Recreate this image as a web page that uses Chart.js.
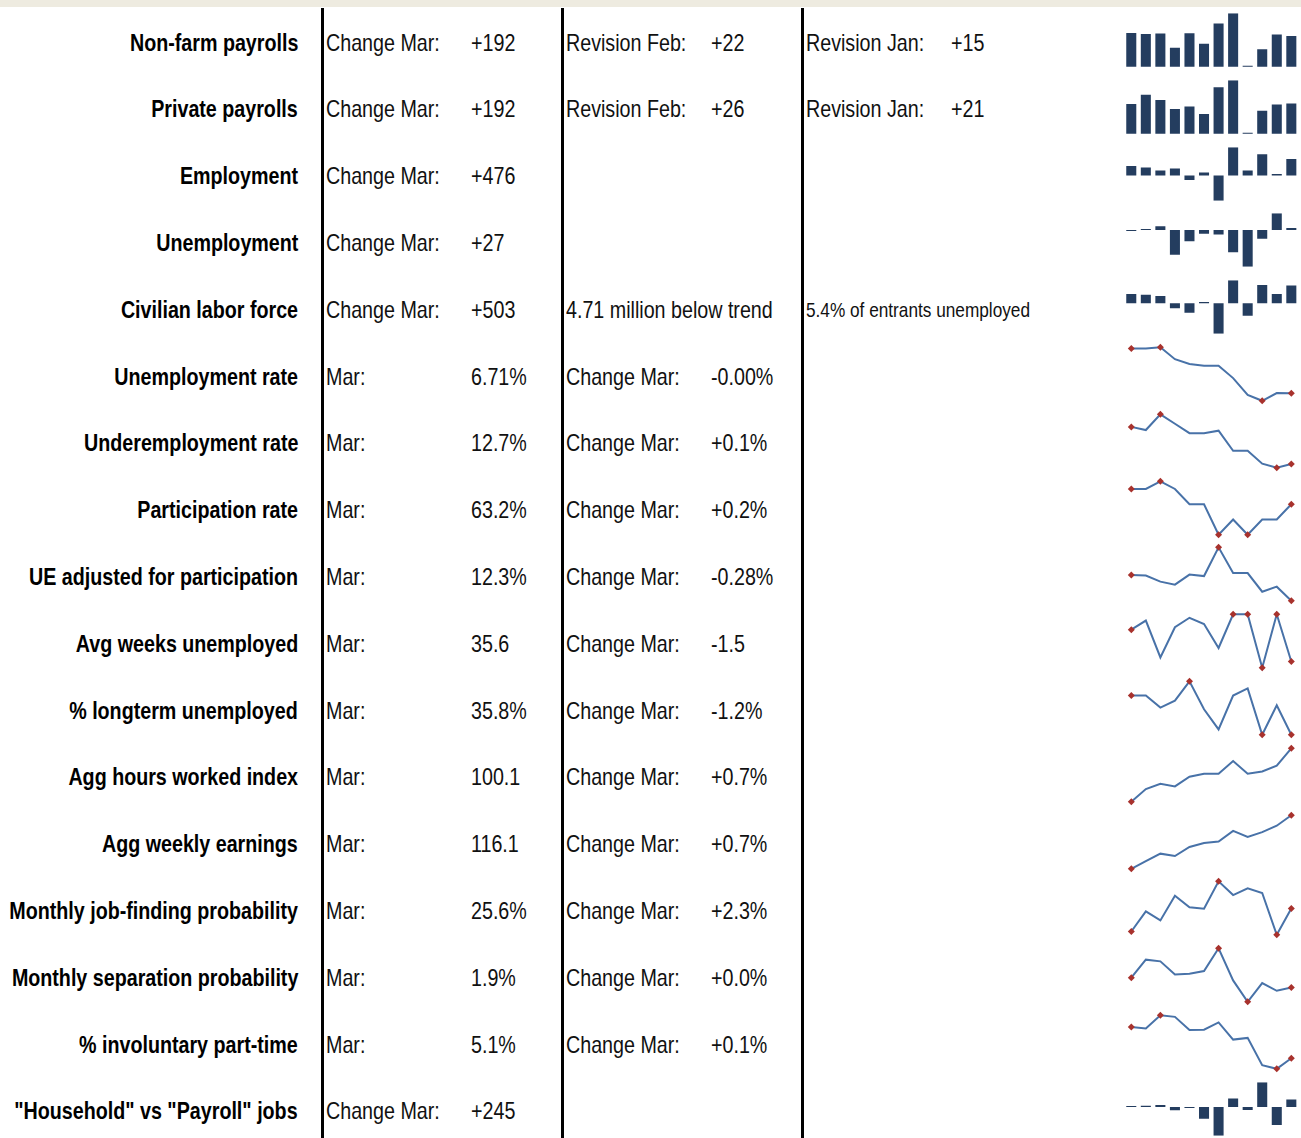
<!DOCTYPE html>
<html>
<head>
<meta charset="utf-8">
<script src="https://cdn.jsdelivr.net/npm/chart.js"></script>
<style>
html, body { margin: 0; padding: 0; overflow: hidden; background: #fff; }
body { width: 1301px; height: 1138px; position: relative;
       font-family: "Liberation Sans", Arial, sans-serif; font-size: 24px; color: #111; }
#strip { position: absolute; left: 0; top: 0; width: 1301px; height: 7px; background: #eeebe0; }
.vline { position: absolute; top: 8px; height: 1130px; width: 3px; background: #000; }
/* no narrow font installed, so squeeze the regular one */
.cell { position: absolute; height: 66.8px; line-height: 66.8px; white-space: nowrap;
        transform: scaleX(0.82); transform-origin: left center; }
.lab { right: 1003px; font-weight: bold; text-align: right; color: #000; transform-origin: right center; }
.small { font-size: 21px; }
.spark { position: absolute; left: 1120px; width: 181px; height: 67px; }
</style>
</head>
<body>
<div id="strip"></div>
<div class="vline" style="left:321px"></div>
<div class="vline" style="left:561px"></div>
<div class="vline" style="left:801px"></div>

<script>
// categories for every sparkline: Apr .. Mar
var months = ["Apr", "May", "Jun", "Jul", "Aug", "Sep", "Oct", "Nov", "Dec", "Jan", "Feb", "Mar"];

var rowLabels = ["Non-farm payrolls", "Private payrolls", "Employment", "Unemployment", "Civilian labor force",
    "Unemployment rate", "Underemployment rate", "Participation rate", "UE adjusted for participation",
    "Avg weeks unemployed", "% longterm unemployed", "Agg hours worked index", "Agg weekly earnings",
    "Monthly job-finding probability", "Monthly separation probability", "% involuntary part-time",
    "\"Household\" vs \"Payroll\" jobs"];

var col1Text = ["Change Mar:", "Change Mar:", "Change Mar:", "Change Mar:", "Change Mar:",
    "Mar:", "Mar:", "Mar:", "Mar:", "Mar:", "Mar:", "Mar:", "Mar:", "Mar:", "Mar:", "Mar:", "Change Mar:"];
var col1Value = ["+192", "+192", "+476", "+27", "+503", "6.71%", "12.7%", "63.2%", "12.3%", "35.6",
    "35.8%", "100.1", "116.1", "25.6%", "1.9%", "5.1%", "+245"];

var col2Text = ["Revision Feb:", "Revision Feb:", "", "", "4.71 million below trend",
    "Change Mar:", "Change Mar:", "Change Mar:", "Change Mar:", "Change Mar:", "Change Mar:",
    "Change Mar:", "Change Mar:", "Change Mar:", "Change Mar:", "Change Mar:", ""];
var col2Value = ["+22", "+26", "", "", "", "-0.00%", "+0.1%", "+0.2%", "-0.28%", "-1.5", "-1.2%",
    "+0.7%", "+0.7%", "+2.3%", "+0.0%", "+0.1%", ""];

var col3Text = ["Revision Jan:", "Revision Jan:", "", "", "5.4% of entrants unemployed",
    "", "", "", "", "", "", "", "", "", "", "", ""];
var col3Value = ["+15", "+21", "", "", "", "", "", "", "", "", "", "", "", "", "", "", ""];

// sparkline series
var nonfarm      = [203, 199, 201, 149, 202, 164, 237, 274, 84, 144, 197, 192];
var privatePay   = [190, 223, 204, 172, 181, 154, 250, 275, 87, 166, 188, 192];
var employment   = [275, 230, 145, 200, -130, 90, -735, 818, 143, 616, 42, 476];
var unemployment = [-6, 3, 52, -330, -148, -48, -61, -296, -490, -115, 223, 27];
var laborForce   = [260, 242, 205, -140, -270, 37, -865, 651, -353, 521, 260, 503];
var unempRate    = [7.54, 7.54, 7.56, 7.34, 7.25, 7.22, 7.22, 6.99, 6.68, 6.57, 6.712, 6.708];
var underRate    = [13.9, 13.8, 14.3, 14.0, 13.7, 13.7, 13.78, 13.14, 13.14, 12.73, 12.6, 12.72];
var partRate     = [63.4, 63.4, 63.5, 63.4, 63.2, 63.2, 62.8, 63.0, 62.8, 63.0, 63.0, 63.2];
var ueAdjusted   = [12.81, 12.80, 12.68, 12.62, 12.82, 12.79, 13.36, 12.85, 12.85, 12.48, 12.58, 12.30];
var avgWeeks     = [36.61, 36.90, 35.73, 36.69, 36.99, 36.79, 36.03, 37.1, 37.1, 35.40, 37.1, 35.6];
var longterm     = [37.40, 37.40, 36.91, 37.19, 37.98, 36.84, 36.02, 37.40, 37.69, 35.8, 37.0, 35.8];
var aggHours     = [97.95, 98.46, 98.67, 98.57, 98.96, 99.08, 99.08, 99.59, 99.08, 99.17, 99.40, 100.1];
var aggEarnings  = [112.0, 112.59, 113.16, 112.98, 113.67, 113.98, 114.09, 114.91, 114.45, 114.81, 115.3, 116.1];
var jobFinding   = [23.59, 25.34, 24.55, 26.71, 25.69, 25.57, 27.96, 26.76, 27.35, 26.94, 23.3, 25.6];
var separation   = [2.016, 2.232, 2.212, 2.056, 2.064, 2.096, 2.368, 1.984, 1.728, 1.952, 1.86, 1.90];
var involuntary  = [5.397, 5.384, 5.509, 5.494, 5.369, 5.372, 5.441, 5.278, 5.294, 5.034, 5.0, 5.1];
var householdGap = [2, 43, 64, -106, -2, -373, -927, 277, -96, 799, -575, 245];

var sparkData = [nonfarm, privatePay, employment, unemployment, laborForce, unempRate, underRate,
    partRate, ueAdjusted, avgWeeks, longterm, aggHours, aggEarnings, jobFinding, separation,
    involuntary, householdGap];
var sparkType = ["bar", "bar", "bar", "bar", "bar", "line", "line", "line", "line", "line",
    "line", "line", "line", "line", "line", "line", "bar"];

var ROW_H = 66.8, TOP = 8;
var BAR = "#243d5f", LINE = "#4872a8", MARK = "#a8322d";

function addCell(text, cls, left, top) {
    if (!text) return;
    var d = document.createElement("div");
    d.className = "cell " + cls;
    d.textContent = text;
    d.style.top = (top + 1.5) + "px";
    if (left != null) d.style.left = left + "px";
    document.body.appendChild(d);
}

function drawSpark(i, top) {
    var box = document.createElement("div");
    box.className = "spark";
    box.style.top = top + "px";
    var cv = document.createElement("canvas");
    cv.width = 181; cv.height = 67;
    box.appendChild(cv);
    document.body.appendChild(box);

    var d = sparkData[i];
    var lo = Math.min.apply(null, d), hi = Math.max.apply(null, d);
    var base = { responsive: false, animation: false, events: [],
        plugins: { legend: { display: false }, tooltip: { enabled: false } } };

    if (sparkType[i] == "bar") {
        base.layout = { padding: { left: 4, right: 2.4, top: 5.3, bottom: 8.2 } };
        base.scales = {
            x: { display: false, offset: true },
            y: { display: false, min: lo > 0 ? lo - (hi - lo) * 0.02 : lo, max: hi }
        };
        new Chart(cv, { type: "bar", options: base,
            data: { labels: months, datasets: [{ data: d, backgroundColor: BAR, minBarLength: 1,
                barPercentage: 0.69, categoryPercentage: 1 }] } });
    } else {
        // high, low, first and last points get a marker
        var radius = d.map(function (v, k) {
            return (v == hi || v == lo || k == 0 || k == d.length - 1) ? 3.5 : 0;
        });
        base.layout = { padding: { left: 11.3, right: 9.7, top: 5.3, bottom: 8.2 } };
        base.scales = {
            x: { display: false, offset: false },
            y: { display: false, min: lo, max: hi }
        };
        new Chart(cv, { type: "line", options: base,
            data: { labels: months, datasets: [{ data: d, borderColor: LINE, borderWidth: 2,
                tension: 0, clip: false, pointStyle: "rectRot", pointRadius: radius,
                pointBackgroundColor: MARK, pointBorderColor: MARK, pointBorderWidth: 0 }] } });
    }
}

rowLabels.forEach(function (lab, i) {
    var y = TOP + i * ROW_H;
    addCell(lab, "lab", null, y);
    addCell(col1Text[i], "", 326, y);
    addCell(col1Value[i], "", 471, y);
    addCell(col2Text[i], "", 566, y);
    addCell(col2Value[i], "", 711, y);
    addCell(col3Text[i], i == 4 ? "small" : "", 806, y);
    addCell(col3Value[i], "", 951, y);
    drawSpark(i, y);
});
</script>
</body>
</html>
